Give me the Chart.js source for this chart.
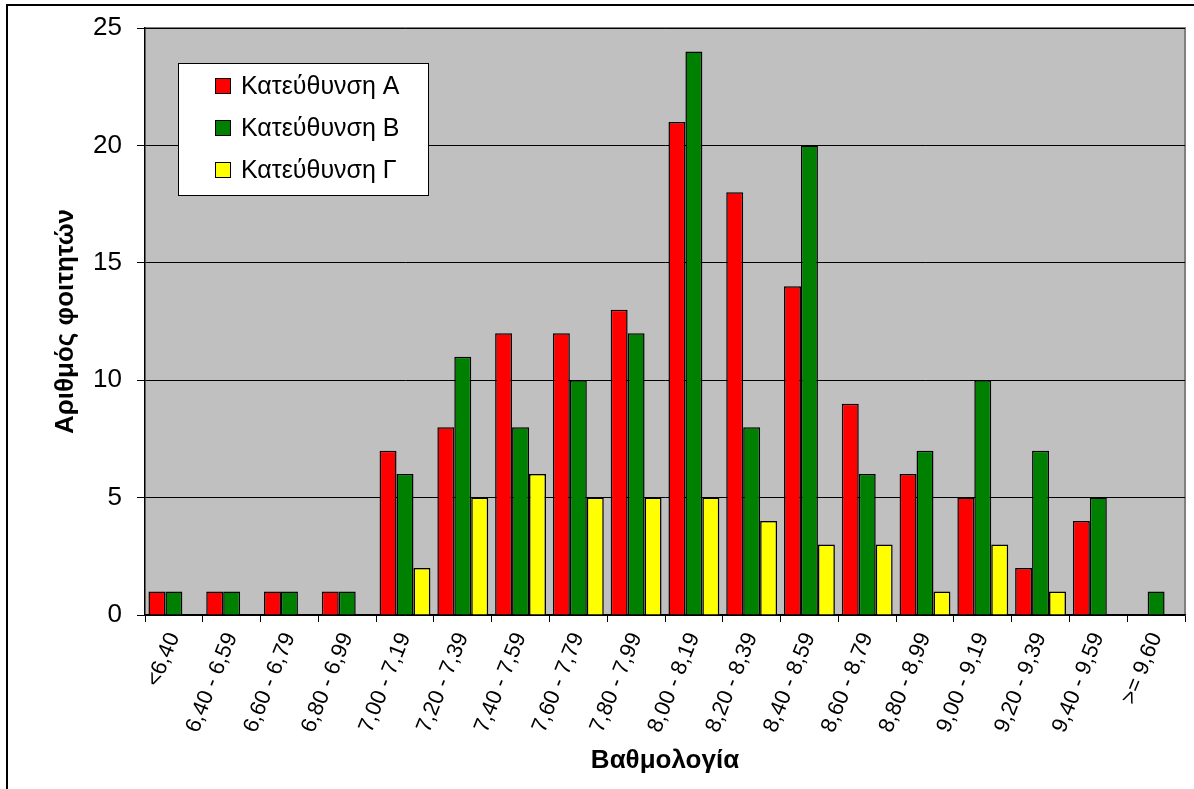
<!DOCTYPE html>
<html lang="el">
<head>
    <meta charset="UTF-8">
    <title>Βαθμολογία</title>
    <script src="https://cdn.jsdelivr.net/npm/chart.js"></script>
    <style>
        html, body {
            margin: 0;
            padding: 0;
            background: #fff;
            overflow: hidden;
        }
        /* outer frame of the chart, right and bottom edges fall outside the window */
        .frame {
            position: absolute;
            left: 6px;
            top: 4px;
            width: 1300px;
            height: 900px;
            border: 2px solid #000;
        }
        .wrap {
            position: absolute;
            left: 0;
            top: 0;
            width: 1194px;
            height: 789px;
        }
    </style>
</head>
<body>
<div class="frame"></div>
<div class="wrap"><canvas id="graph"></canvas></div>

<script>
    // grade ranges
    const categories = ["<6,40", "6,40 - 6,59", "6,60 - 6,79", "6,80 - 6,99", "7,00 - 7,19", "7,20 - 7,39",
        "7,40 - 7,59", "7,60 - 7,79", "7,80 - 7,99", "8,00 - 8,19", "8,20 - 8,39", "8,40 - 8,59",
        "8,60 - 8,79", "8,80 - 8,99", "9,00 - 9,19", "9,20 - 9,39", "9,40 - 9,59", ">= 9,60"];

    // number of students per direction
    const seriesA = [1, 1, 1, 1, 7, 8, 12, 12, 13, 21, 18, 14, 9, 6, 5, 2, 4, 0];
    const seriesB = [1, 1, 1, 1, 6, 11, 8, 10, 12, 24, 8, 20, 6, 7, 10, 7, 5, 1];
    const seriesC = [0, 0, 0, 0, 2, 5, 6, 5, 5, 5, 4, 3, 3, 1, 3, 1, 0, 0];

    const seriesNames = ["Κατεύθυνση Α", "Κατεύθυνση Β", "Κατεύθυνση Γ"];
    const yTicks = [0, 5, 10, 15, 20, 25];

    const FONT = '"Liberation Sans", Arial, sans-serif';
    Chart.defaults.font.family = FONT;
    Chart.defaults.color = '#000';

    // gray plot area with a gray frame on top/right
    const plotBackground = {
        id: 'plotBackground',
        beforeDraw(chart) {
            const {ctx, chartArea: a} = chart;
            ctx.save();
            ctx.fillStyle = '#c0c0c0';
            ctx.fillRect(a.left, a.top, a.right - a.left, a.bottom - a.top);
            ctx.strokeStyle = '#808080';
            ctx.lineWidth = 2;
            ctx.beginPath();
            ctx.moveTo(a.left, a.top);
            ctx.lineTo(a.right, a.top);
            ctx.lineTo(a.right, a.bottom);
            ctx.stroke();
            ctx.restore();
        }
    };

    // legend box drawn inside the plot, top left
    const boxLegend = {
        id: 'boxLegend',
        afterDraw(chart) {
            const {ctx, chartArea: a} = chart;
            const x = a.left + 33, y = a.top + 35, w = 250, h = 132;
            ctx.save();
            ctx.fillStyle = '#fff';
            ctx.fillRect(x, y, w, h);
            ctx.strokeStyle = '#000';
            ctx.lineWidth = 1;
            ctx.strokeRect(x + 0.5, y + 0.5, w, h);
            ctx.font = '25px ' + FONT;
            ctx.textBaseline = 'middle';
            chart.data.datasets.forEach((ds, i) => {
                const cy = y + 23 + i * 42;
                ctx.fillStyle = ds.backgroundColor;
                ctx.fillRect(x + 37, cy - 8, 15, 15);
                ctx.strokeStyle = '#000';
                ctx.strokeRect(x + 37.5, cy - 7.5, 15, 15);
                ctx.fillStyle = '#000';
                ctx.fillText(ds.label, x + 63, cy + 1);
            });
            ctx.restore();
        }
    };

    function makeSet(label, values, color) {
        return {
            label: label,
            data: values,
            backgroundColor: color,
            borderColor: '#000',
            borderWidth: 1.5,
            borderSkipped: 'bottom',
            categoryPercentage: 0.88,
            barPercentage: 1
        };
    }

    var ctx = document.getElementById("graph").getContext("2d");
    new Chart(ctx, {
        type: "bar",
        data: {
            labels: categories,
            datasets: [
                makeSet(seriesNames[0], seriesA, '#ff0000'),
                makeSet(seriesNames[1], seriesB, '#008000'),
                makeSet(seriesNames[2], seriesC, '#ffff00')
            ]
        },
        options: {
            responsive: true,
            maintainAspectRatio: false,
            animation: false,
            layout: {padding: {left: 0, top: 28, right: 9, bottom: 0}},
            plugins: {
                legend: {display: false},
                tooltip: {enabled: false}
            },
            scales: {
                x: {
                    afterFit(scale) {
                        scale.height = 174;
                        scale.paddingLeft = 0;
                        scale.paddingRight = 0;
                    },
                    grid: {
                        offset: true,
                        drawOnChartArea: false,
                        drawTicks: true,
                        tickLength: 7,
                        color: '#000'
                    },
                    border: {color: '#000', width: 1.5},
                    ticks: {
                        autoSkip: false,
                        minRotation: 68,
                        maxRotation: 68,
                        padding: 7,
                        font: {size: 22}
                    },
                    title: {
                        display: true,
                        text: 'Βαθμολογία',
                        font: {size: 26, weight: 'bold'},
                        padding: {top: 13, bottom: 13}
                    }
                },
                y: {
                    min: 0,
                    max: 25,
                    afterFit(scale) {
                        scale.width = 145;
                        scale.paddingTop = 0;
                        scale.paddingBottom = 0;
                    },
                    afterBuildTicks(scale) {
                        scale.ticks = yTicks.map(v => ({value: v}));
                    },
                    grid: {
                        color: '#000',
                        lineWidth: 1,
                        tickLength: 8
                    },
                    border: {color: '#000', width: 1.5},
                    ticks: {
                        padding: 15,
                        font: {size: 26}
                    },
                    title: {
                        display: true,
                        text: 'Αριθμός φοιτητών',
                        font: {size: 26, weight: 'bold'},
                        padding: {top: 50, bottom: 50}
                    }
                }
            }
        },
        plugins: [plotBackground, boxLegend]
    });
</script>
</body>
</html>
